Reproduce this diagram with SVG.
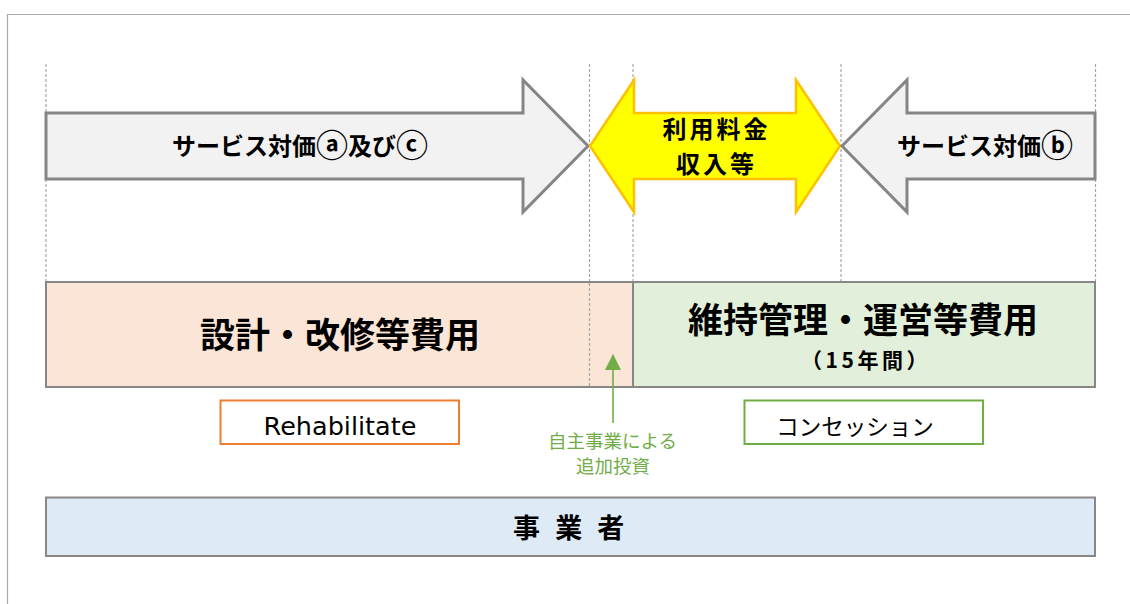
<svg xmlns="http://www.w3.org/2000/svg" width="1130" height="604" viewBox="0 0 1130 604">
<defs>
<style>
.jp{font-family:"Noto Sans CJK JP","Noto Sans CJK SC",sans-serif;}
.b{font-weight:700;fill:#000;}
.guide{stroke:#A6A6A6;stroke-width:1.2;stroke-dasharray:3 2;fill:none;}
.box{stroke:#878787;stroke-width:2;}
.garrow{fill:#F2F2F2;stroke:#858585;stroke-width:3;stroke-linejoin:miter;}
.yarrow{fill:#FFFF00;stroke:#FFC000;stroke-width:2.5;}
.gt{fill:#70AD47;font-size:18.5px;}
.circ{font-size:32px;}
</style>
<marker id="ga" viewBox="0 0 16 16" refX="15" refY="8" markerWidth="16" markerHeight="16" markerUnits="userSpaceOnUse" orient="auto">
<path d="M0,0 L16,8 L0,16 Z" fill="#70AD47"/>
</marker>
</defs>
<rect x="0" y="0" width="1130" height="604" fill="#FFFFFF"/>
<g id="frame">
<path d="M7.5,604 V14.5 H1130" fill="none" stroke="#ABABAB" stroke-width="1.2"/>
</g>
<g id="guides">
<line class="guide" x1="46" y1="64" x2="46" y2="282"/>
<line class="guide" x1="589.5" y1="64" x2="589.5" y2="387"/>
<line class="guide" x1="633" y1="64" x2="633" y2="282"/>
<line class="guide" x1="841" y1="64" x2="841" y2="282"/>
<line class="guide" x1="1095.5" y1="64" x2="1095.5" y2="282"/>
</g>
<g id="arrow-left">
<path class="garrow" d="M46,113 H523 V80 L588,146 L523,212 V179 H46 Z"/>
<text class="jp b" x="300" y="155" font-size="24" text-anchor="middle">サービス対価<tspan class="circ" dy="1.5">ⓐ</tspan><tspan dy="-1.5">及び</tspan><tspan class="circ" dy="1.5">ⓒ</tspan></text>
</g>
<g id="arrow-center">
<path class="yarrow" d="M590,146 L634,80 V113 H796 V80 L840,146 L796,212 V179 H634 V212 Z"/>
<text class="jp b" font-size="24" text-anchor="middle" letter-spacing="3"><tspan x="716.5" y="138">利用料金</tspan><tspan x="716.5" y="173">収入等</tspan></text>
</g>
<g id="arrow-right">
<path class="garrow" d="M1095,113 H907 V80 L842,146 L907,212 V179 H1095 Z"/>
<text class="jp b" x="985" y="155" font-size="24" text-anchor="middle">サービス対価<tspan class="circ" dy="1.5">ⓑ</tspan></text>
</g>
<g id="box-design">
<rect class="box" x="46" y="282" width="587" height="105" fill="#FBE5D6"/>
<line class="guide" x1="589.5" y1="283" x2="589.5" y2="386"/>
<text class="jp b" x="340" y="348" font-size="35" text-anchor="middle">設計・改修等費用</text>
</g>
<g id="box-om">
<rect class="box" x="633" y="282" width="462" height="105" fill="#E2EFDA"/>
<text class="jp b" x="863" y="333" font-size="35" text-anchor="middle">維持管理・運営等費用</text>
<text class="jp b" x="866" y="368" font-size="21" text-anchor="middle" letter-spacing="3.5">（15年間）</text>
</g>
<g id="label-rehab">
<rect x="220.5" y="400.5" width="238.5" height="43.5" fill="#FFFFFF" stroke="#ED7D31" stroke-width="2"/>
<text x="340" y="435" font-family="DejaVu Sans, sans-serif" font-size="25.5" fill="#000" text-anchor="middle">Rehabilitate</text>
</g>
<g id="label-concession">
<rect x="744.5" y="400.5" width="238.5" height="43.5" fill="#FFFFFF" stroke="#70AD47" stroke-width="2"/>
<text class="jp" x="855" y="435" font-size="22.5" fill="#000" text-anchor="middle">コンセッション</text>
</g>
<g id="connectors">
<line x1="613" y1="423" x2="613" y2="355" stroke="#70AD47" stroke-width="1.6" marker-end="url(#ga)"/>
</g>
<g id="label-invest">
<text class="jp gt" x="612.5" y="448" text-anchor="middle">自主事業による</text>
<text class="jp gt" x="613" y="472.5" text-anchor="middle" font-size="19">追加投資</text>
</g>
<g id="box-operator">
<rect class="box" x="46" y="497.5" width="1049" height="58.5" fill="#DEEBF7"/>
<text class="jp b" x="571" y="538" font-size="27" text-anchor="middle" letter-spacing="4.5" xml:space="preserve">事 業 者</text>
</g>
</svg>
